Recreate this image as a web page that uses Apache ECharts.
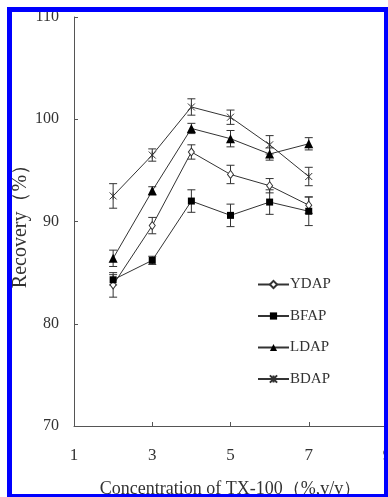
<!DOCTYPE html>
<html>
<head>
<meta charset="utf-8">
<script src="https://cdn.jsdelivr.net/npm/echarts@6/dist/echarts.min.js"></script>
<style>
html,body{margin:0;padding:0;background:#fff;}
#chart{width:388px;height:497px;}
</style>
</head>
<body>
<div id="chart"></div>
<script>
// ---- data ----
const xValues = [2, 3, 4, 5, 6, 7];
const ydap = [83.8, 89.6, 96.8, 94.6, 93.5, 91.6];
const ydapErr = [1.2, 0.8, 0.7, 0.9, 0.7, 0.8];
const bfap = [84.3, 86.2, 92.0, 90.6, 91.9, 91.0];
const bfapErr = [0.5, 0.4, 1.1, 1.1, 1.2, 1.4];
const ldap = [86.4, 93.0, 99.1, 98.1, 96.6, 97.6];
const ldapErr = [0.8, 0.4, 0.5, 0.8, 0.6, 0.6];
const bdap = [92.5, 96.5, 101.2, 100.2, 97.5, 94.4];
const bdapErr = [1.2, 0.6, 0.8, 0.7, 0.9, 0.9];
const seriesNames = ['YDAP', 'BFAP', 'LDAP', 'BDAP'];
const xTickLabels = [1, 3, 5, 7, 9];
const yTickLabels = [70, 80, 90, 100, 110];

const SERIF = '"Liberation Serif","DejaVu Serif",serif';
const ink = '#333';

function pts(vals) { return xValues.map((x, i) => [x, vals[i]]); }
function errData(vals, errs) { return xValues.map((x, i) => [x, vals[i], errs[i]]); }

function errRender(params, api) {
  const x = api.value(0), y = api.value(1), e = api.value(2);
  const t = api.coord([x, y + e]);
  const b = api.coord([x, y - e]);
  const hw = 4;
  const st = { stroke: ink, lineWidth: 1 };
  return {
    type: 'group',
    children: [
      { type: 'line', shape: { x1: t[0], y1: t[1], x2: b[0], y2: b[1] }, style: st },
      { type: 'line', shape: { x1: t[0] - hw, y1: t[1], x2: t[0] + hw, y2: t[1] }, style: st },
      { type: 'line', shape: { x1: b[0] - hw, y1: b[1], x2: b[0] + hw, y2: b[1] }, style: st }
    ]
  };
}

const starPath = 'path://M0,0 L10,10 M0,10 L10,0 M5,0 L5,10';

function lineSeries(name, vals, symbol, size, itemStyle) {
  return {
    name: name, type: 'line', data: pts(vals),
    symbol: symbol, symbolSize: size,
    lineStyle: { color: ink, width: 1 },
    itemStyle: itemStyle,
    z: 3
  };
}
function errSeries(vals, errs) {
  return { type: 'custom', data: errData(vals, errs), renderItem: errRender, z: 2, silent: true };
}

const chart = echarts.init(document.getElementById('chart'));
chart.setOption({
  animation: false,
  backgroundColor: '#fff',
  grid: { left: 74, right: 1, top: 17, bottom: 71, containLabel: false, outerBoundsMode: 'none' },
  xAxis: {
    type: 'value', min: 1, max: 9, interval: 2,
    name: 'Concentration of TX-100（%,v/v）',
    nameLocation: 'middle', nameGap: 54,
    nameTextStyle: { fontFamily: SERIF, fontSize: 18, color: ink },
    axisLine: { lineStyle: { color: '#555', width: 1 } },
    axisTick: { inside: true, length: 4, lineStyle: { color: '#555' } },
    axisLabel: { fontFamily: SERIF, fontSize: 17, color: ink, margin: 21,
      formatter: v => xTickLabels.indexOf(v) >= 0 ? String(v) : '' },
    splitLine: { show: false }
  },
  yAxis: {
    type: 'value', min: 70, max: 110, interval: 10,
    name: 'Recovery（%）',
    nameLocation: 'middle', nameGap: 43, nameRotate: 90, nameMoveOverlap: false,
    nameTextStyle: { fontFamily: SERIF, fontSize: 20, color: ink },
    axisLine: { show: true, lineStyle: { color: '#555', width: 1 } },
    axisTick: { show: true, inside: true, length: 4, lineStyle: { color: '#555' } },
    axisLabel: { fontFamily: SERIF, fontSize: 16, color: ink, margin: 15,
      formatter: v => yTickLabels.indexOf(v) >= 0 ? String(v) : '' },
    splitLine: { show: false }
  },
  legend: {
    orient: 'vertical', left: 257, top: 277, padding: 0,
    itemWidth: 31, itemHeight: 9, itemGap: 16.5,
    data: seriesNames,
    textStyle: { fontFamily: SERIF, fontSize: 15, color: ink, padding: [0, 0, 0, -4] }
  },
  series: [
    errSeries(ydap, ydapErr),
    errSeries(bfap, bfapErr),
    errSeries(ldap, ldapErr),
    errSeries(bdap, bdapErr),
    lineSeries('YDAP', ydap, 'diamond', [6, 8], { color: '#fff', borderColor: ink, borderWidth: 1 }),
    lineSeries('BFAP', bfap, 'rect', 7, { color: '#000', borderColor: '#000', borderWidth: 0 }),
    lineSeries('LDAP', ldap, 'triangle', 9, { color: '#000', borderColor: '#000', borderWidth: 0 }),
    lineSeries('BDAP', bdap, starPath, 7, { color: 'transparent', borderColor: ink, borderWidth: 1 })
  ],
  graphic: {
    elements: [
      { type: 'rect', z: 100, shape: { x: 7, y: 7, width: 5, height: 490 }, style: { fill: '#0000ff' } },
      { type: 'rect', z: 100, shape: { x: 7, y: 7, width: 381, height: 5 }, style: { fill: '#0000ff' } },
      { type: 'rect', z: 100, shape: { x: 384, y: 7, width: 4, height: 490 }, style: { fill: '#0000ff' } },
      { type: 'rect', z: 100, shape: { x: 7, y: 494, width: 381, height: 3 }, style: { fill: '#0000ff' } }
    ]
  }
});
</script>
</body>
</html>
